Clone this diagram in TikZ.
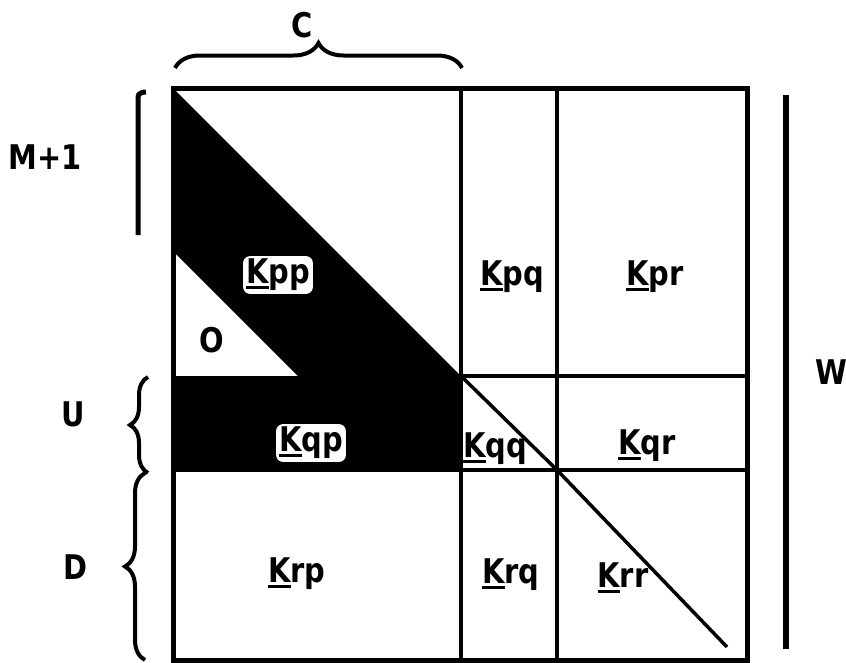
\documentclass[tikz,border=0pt]{standalone}
\usepackage{fontspec}
\setmainfont{DejaVu Sans}[FakeStretch=0.85]
\usetikzlibrary{decorations.pathreplacing}
\newcommand\undK{\setbox0\hbox{K}\rlap{\rule[-5pt]{\wd0}{3pt}}K}
\begin{document}
\begin{tikzpicture}[x=1pt,y=-1pt,
  lbl/.style={font=\fontsize{34}{34}\selectfont\bfseries, inner sep=1pt},
  gridline/.style={line width=4pt},
  frameline/.style={line width=5pt},
  diagline/.style={line width=3.5pt},
  wbox/.style={fill=white, rounded corners=7pt, inner sep=3pt},
  bracepath/.style={decorate, decoration={brace, amplitude=#1}, line width=4pt},
  bar/.style={line width=5pt}]
\useasboundingbox (0,0) rectangle (846,662);
% corners of the grid
\coordinate (tl) at (173,88);
\coordinate (br) at (747,660);
\coordinate (c1) at (461,376);
\coordinate (c2) at (557,470);
\coordinate (dend) at (727,647);
% black region
\fill (tl) -- (c1) -- (461,471) -- (173,471) -- (173,376) -- (298,376) -- (173,251) -- cycle;
% grid lines
\draw[gridline] (461,88) -- (461,660);
\draw[gridline] (557,88) -- (557,660);
\draw[gridline] (c1) -- (747,376);
\draw[gridline] (173,470) -- (747,470);
\draw[diagline] (c1) -- (c2) -- (dend);
\draw[frameline] (tl) rectangle (br);
% labels in cells
\node[lbl, wbox] (kpp) at (278,275) {\undK pp};
\node[lbl, wbox] (kqp) at (311,443) {\undK qp};
\node[lbl] (kqq) at (495,449) {\undK qq};
\node[lbl] (kpq) at (512,277) {\undK pq};
\node[lbl] (kpr) at (655,277) {\undK pr};
\node[lbl] (kqr) at (647,446) {\undK qr};
\node[lbl] (krp) at (297,574) {\undK rp};
\node[lbl] (krq) at (511,575) {\undK rq};
\node[lbl] (krr) at (623,578) {\undK rr};
\node[lbl] (zero) at (212,340) {O};
% braces and bars
\draw[bracepath=25pt] (175,68) -- (462,68);
\node[lbl] (lc) at (302,25) {C};
\draw[bar] (138,235) -- (138,97) to[out=90,in=180] (146,92);
\node[lbl] (lm) at (45,157) {M+1};
\draw[bracepath=18pt] (148,473) -- (148,377);
\node[lbl] (lu) at (73,414) {U};
\draw[bracepath=20pt] (145,660) -- (145,473);
\node[lbl] (ld) at (75,567) {D};
\draw[bar, line width=5.5pt] (786,95) -- (786,649);
\node[lbl] (lw) at (831,372) {W};
\end{tikzpicture}
\end{document}
